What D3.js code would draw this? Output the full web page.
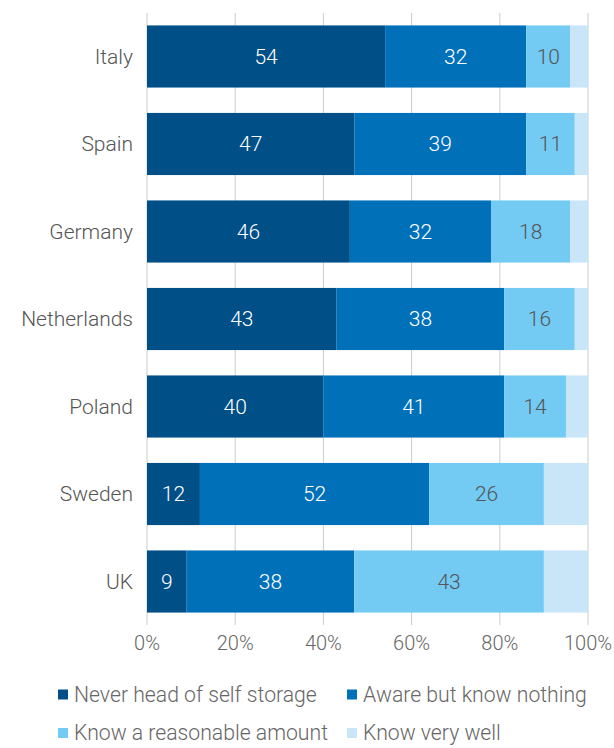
<!DOCTYPE html>
<html><head><meta charset="utf-8">
<script src="https://cdn.jsdelivr.net/npm/d3@7"></script>
<style>body{margin:0;background:#fff}svg{display:block;font-family:Roboto,sans-serif;font-weight:300}</style>
</head><body><svg id="c" width="614" height="748"></svg>
<script>
const categories = ["Italy","Spain","Germany","Netherlands","Poland","Sweden","UK"];
const seriesNames = ["Never head of self storage","Aware but know nothing","Know a reasonable amount","Know very well"];
const neverHeard = [54,47,46,43,40,12,9];
const awareNothing = [32,39,32,38,41,52,38];
const reasonable = [10,11,18,16,14,26,43];
const veryWell = [4,3,4,3,5,10,10];
const tickValues = [0,20,40,60,80,100];
const colors = ["#004f87","#0070b8","#73caf3","#c8e6f8"];
const labelColors = ["#fff","#fff","#555",null];

const svg = d3.select("#c");
const x = d3.scaleLinear().domain([0,100]).range([147,588]);
const y = d3.scaleBand().domain(categories).range([13,625]).paddingInner(0.29).paddingOuter(0.142);

const rows = categories.map((c,i)=>({cat:c, v0:neverHeard[i], v1:awareNothing[i], v2:reasonable[i], v3:veryWell[i]}));
const stack = d3.stack().keys(["v0","v1","v2","v3"]);
const series = stack(rows);

// gridlines
svg.append("g").selectAll("line").data(tickValues).join("line")
  .attr("x1",d=>x(d)).attr("x2",d=>x(d)).attr("y1",13).attr("y2",625)
  .attr("stroke","#cccccc").attr("stroke-width",1);

// x tick labels
svg.append("g").selectAll("text").data(tickValues).join("text")
  .attr("x",d=>x(d)).attr("y",650).attr("text-anchor","middle")
  .attr("font-size",20).attr("fill","#666").text(d=>d+"%");

// bars
series.forEach((s,si)=>{
  const g = svg.append("g");
  g.selectAll("rect").data(s).join("rect")
    .attr("x",d=>x(d[0])).attr("width",d=>x(d[1])-x(d[0]))
    .attr("y",d=>y(d.data.cat)).attr("height",y.bandwidth())
    .attr("fill",colors[si]);
  if(labelColors[si]){
    g.selectAll("text").data(s).join("text")
      .attr("x",d=>(x(d[0])+x(d[1]))/2).attr("y",d=>y(d.data.cat)+y.bandwidth()/2)
      .attr("dy","0.35em").attr("text-anchor","middle").attr("font-size",21)
      .attr("fill",labelColors[si]).text(d=>d[1]-d[0]);
  }
});

// category labels
svg.append("g").selectAll("text").data(categories).join("text")
  .attr("x",133).attr("y",d=>y(d)+y.bandwidth()/2).attr("dy","0.35em")
  .attr("text-anchor","end").attr("font-size",21).attr("fill","#555").text(d=>d);

// legend
const legendPos = [[58,694.5],[347,694.5],[58,733],[347,733]];
seriesNames.forEach((n,i)=>{
  const [lx,ly] = legendPos[i];
  svg.append("rect").attr("x",lx).attr("y",ly-5).attr("width",10).attr("height",10).attr("fill",colors[i]);
  svg.append("text").attr("x",lx+16).attr("y",ly).attr("dy","0.35em")
    .attr("font-size",21.2).attr("fill","#666").text(n);
});
</script></body></html>
